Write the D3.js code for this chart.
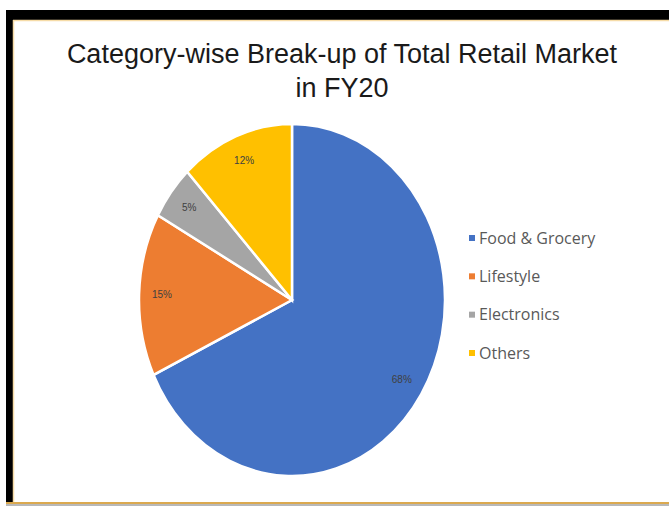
<!DOCTYPE html>
<html>
<head>
<meta charset="utf-8">
<script src="https://cdn.jsdelivr.net/npm/d3@7"></script>
<style>
  body { margin: 0; background: #fff; }
</style>
</head>
<body>
<div id="chart"></div>
<script>
// data
var categories = ["Food & Grocery", "Lifestyle", "Electronics", "Others"];
var shares = [68, 15, 5, 12];
var colors = ["#4472C4", "#ED7D31", "#A5A5A5", "#FFC000"];

var svgWidth = 669;
var svgHeight = 506;

var svg = d3.select("#chart")
    .append("svg")
    .attr("width", svgWidth)
    .attr("height", svgHeight);

// frame
svg.append("rect")
    .attr("x", 0).attr("y", 0)
    .attr("width", svgWidth).attr("height", svgHeight)
    .attr("fill", "#fff");

svg.append("rect")
    .attr("x", 6).attr("y", 10)
    .attr("width", svgWidth - 6).attr("height", 10)
    .attr("fill", "#000");

svg.append("rect")
    .attr("x", 6).attr("y", 10)
    .attr("width", 7).attr("height", 494)
    .attr("fill", "#000");

svg.append("line")
    .attr("x1", 13).attr("x2", svgWidth)
    .attr("y1", 20.5).attr("y2", 20.5)
    .attr("stroke", "#f6dca8").attr("stroke-width", 1.5);

svg.append("line")
    .attr("x1", 13.5).attr("x2", 13.5)
    .attr("y1", 20).attr("y2", 503)
    .attr("stroke", "#f6dca8").attr("stroke-width", 1.5);

svg.append("rect")
    .attr("x", 6).attr("y", 502)
    .attr("width", svgWidth - 6).attr("height", 2)
    .attr("fill", "#dba94f");

svg.append("rect")
    .attr("x", 6).attr("y", 504)
    .attr("width", svgWidth - 6).attr("height", 2)
    .attr("fill", "#b8b8b8");

// title
var title = svg.append("text")
    .attr("text-anchor", "middle")
    .attr("font-family", "Liberation Sans, Arial, sans-serif")
    .attr("font-size", 27)
    .attr("fill", "#1a1a1a");

title.append("tspan")
    .attr("x", 342).attr("y", 63)
    .text("Category-wise Break-up of Total Retail Market");

title.append("tspan")
    .attr("x", 342).attr("y", 97)
    .text("in FY20");

// pie (picture is stretched vertically, so draw it as an ellipse)
var radius = 153;
var stretch = 176 / 153;

var pieGroup = svg.append("g")
    .attr("transform", `translate(292, 300) scale(1, ${stretch})`);

var pie = d3.pie()
    .sort(null)
    .value(d => d);

var arc = d3.arc()
    .innerRadius(0)
    .outerRadius(radius);

var labelArc = d3.arc()
    .innerRadius(radius * 0.85)
    .outerRadius(radius * 0.85);

var slices = pie(shares);

pieGroup.selectAll("path")
    .data(slices)
    .enter()
    .append("path")
    .attr("d", arc)
    .attr("fill", (d, i) => colors[i])
    .attr("stroke", "#fff")
    .attr("stroke-width", 2.5)
    .attr("vector-effect", "non-scaling-stroke");

svg.append("g")
    .selectAll("text")
    .data(slices)
    .enter()
    .append("text")
    .attr("x", d => 292 + labelArc.centroid(d)[0])
    .attr("y", d => 300 + labelArc.centroid(d)[1] * stretch + 3)
    .attr("text-anchor", "middle")
    .attr("font-family", "Liberation Sans Narrow, Liberation Sans, sans-serif")
    .attr("font-size", 10)
    .attr("fill", "#404040")
    .text(d => d.data + "%");

// legend
var legendY = d3.scalePoint()
    .domain(categories)
    .range([238, 353]);

var legend = svg.append("g")
    .selectAll("g")
    .data(categories)
    .enter()
    .append("g")
    .attr("transform", d => `translate(469, ${legendY(d)})`);

legend.append("rect")
    .attr("x", 0).attr("y", -3)
    .attr("width", 6).attr("height", 6)
    .attr("fill", (d, i) => colors[i]);

legend.append("text")
    .attr("x", 10)
    .attr("y", 5.5)
    .attr("font-family", "Open Sans, sans-serif")
    .attr("font-size", 16)
    .attr("fill", "#595959")
    .text(d => d);
</script>
</body>
</html>
